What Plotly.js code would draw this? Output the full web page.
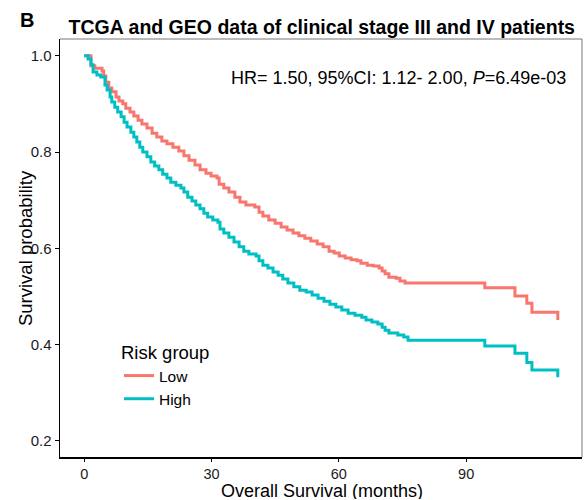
<!DOCTYPE html>
<html>
<head>
<meta charset="utf-8">
<script src="https://cdn.plot.ly/plotly-3.0.1.min.js"></script>
<style>html,body{margin:0;padding:0;background:#fff;}#chart{width:584px;height:500px;}</style>
</head>
<body>
<div id="chart"></div>
<script>
// Kaplan-Meier step data (months, survival probability)
const lowTime = [0, 1.6, 2.5, 4.2, 4.6, 5.1, 5.8, 6.5, 7.5, 8.2, 9.1, 9.8, 10.8, 11.7, 12.7, 13.6, 14.8, 16.0, 17.1, 18.3, 19.5, 20.9, 22.3, 23.5, 24.7, 26.1, 27.3, 28.7, 29.9, 31.3, 31.8, 32.9, 34.1, 35.5, 36.7, 38.1, 40.2, 41.2, 42.1, 43.5, 45.0, 46.4, 47.8, 49.2, 50.6, 52.0, 53.4, 54.9, 56.3, 57.7, 58.9, 60.1, 61.5, 62.9, 64.3, 65.2, 66.7, 68.1, 69.5, 70.2, 70.9, 71.8, 73.5, 74.4, 75.6, 94.4, 101.5, 104.3, 105.5, 111.6];
const lowSurv = [1.0, 0.979, 0.974, 0.968, 0.958, 0.945, 0.933, 0.925, 0.914, 0.906, 0.900, 0.891, 0.883, 0.875, 0.866, 0.858, 0.850, 0.839, 0.831, 0.823, 0.817, 0.810, 0.802, 0.792, 0.783, 0.773, 0.763, 0.756, 0.750, 0.746, 0.733, 0.725, 0.717, 0.706, 0.696, 0.690, 0.686, 0.675, 0.667, 0.659, 0.652, 0.644, 0.638, 0.632, 0.626, 0.621, 0.615, 0.609, 0.603, 0.594, 0.590, 0.584, 0.580, 0.576, 0.574, 0.569, 0.565, 0.563, 0.559, 0.553, 0.547, 0.540, 0.538, 0.532, 0.528, 0.518, 0.501, 0.486, 0.467, 0.451];

const highTime = [0, 0.9, 1.6, 2.1, 3.0, 3.9, 4.9, 5.4, 6.1, 6.5, 7.2, 7.9, 8.7, 9.4, 10.1, 11.0, 11.7, 12.4, 13.1, 13.8, 14.8, 15.7, 16.6, 17.6, 18.5, 19.5, 20.4, 21.6, 22.8, 23.5, 24.4, 25.4, 26.3, 27.3, 28.2, 29.1, 30.3, 31.5, 32.0, 32.9, 34.1, 35.3, 36.5, 37.6, 38.8, 40.5, 41.2, 42.1, 43.3, 44.5, 45.7, 46.8, 48.0, 49.4, 50.8, 52.3, 53.7, 55.1, 56.5, 57.9, 59.3, 60.7, 62.2, 63.8, 65.4, 66.4, 67.8, 69.2, 70.2, 70.9, 71.8, 73.9, 75.3, 76.3, 94.4, 101.5, 104.3, 105.5, 111.6];
const highSurv = [1.0, 0.993, 0.981, 0.966, 0.960, 0.956, 0.939, 0.929, 0.914, 0.904, 0.893, 0.883, 0.873, 0.862, 0.852, 0.841, 0.831, 0.821, 0.810, 0.800, 0.790, 0.779, 0.771, 0.763, 0.754, 0.746, 0.737, 0.731, 0.725, 0.717, 0.706, 0.698, 0.690, 0.682, 0.673, 0.665, 0.659, 0.654, 0.640, 0.632, 0.623, 0.613, 0.603, 0.594, 0.588, 0.584, 0.574, 0.565, 0.559, 0.551, 0.544, 0.536, 0.528, 0.520, 0.513, 0.509, 0.503, 0.496, 0.490, 0.484, 0.478, 0.472, 0.465, 0.461, 0.457, 0.451, 0.447, 0.443, 0.436, 0.430, 0.424, 0.420, 0.416, 0.409, 0.397, 0.382, 0.363, 0.347, 0.332];

const groupNames = ["Low", "High"];
const groupColors = ["#F8766D", "#00BFC4"];
const xTicks = [0, 30, 60, 90];
const yTicks = [0.2, 0.4, 0.6, 0.8, 1.0];
const yTickText = ["0.2", "0.4", "0.6", "0.8", "1.0"];

const FONT = "Liberation Sans, Arial, Helvetica, sans-serif";

const traces = [
  {x: lowTime, y: lowSurv, name: groupNames[0], type: "scatter", mode: "lines",
   line: {shape: "hv", color: groupColors[0], width: 3}},
  {x: highTime, y: highSurv, name: groupNames[1], type: "scatter", mode: "lines",
   line: {shape: "hv", color: groupColors[1], width: 3}}
];

const layout = {
  width: 584, height: 500,
  margin: {l: 60, r: 2, t: 39, b: 43},
  paper_bgcolor: "#fff", plot_bgcolor: "#fff",
  font: {family: FONT, color: "#000"},
  title: {text: "<b>TCGA and GEO data of clinical stage III and IV patients</b>",
          font: {family: FONT, size: 19.5, color: "#000"},
          xref: "container", x: 0.551, xanchor: "center",
          yref: "container", y: 0.946, yanchor: "middle"},
  xaxis: {range: [-5.7, 117.3], tickvals: xTicks, ticktext: xTicks.map(String),
          showgrid: false, zeroline: false, showline: true, linecolor: "#000", linewidth: 1.5,
          ticks: "outside", ticklen: 3, tickwidth: 1, tickcolor: "#000",
          tickfont: {family: FONT, size: 14.5, color: "#1a1a1a"}},
  yaxis: {range: [0.1665, 1.0347], tickvals: yTicks, ticktext: yTickText,
          showgrid: false, zeroline: false, showline: true, linecolor: "#000", linewidth: 1.5,
          ticks: "outside", ticklen: 4, tickwidth: 1, tickcolor: "#000",
          tickfont: {family: FONT, size: 15, color: "#1a1a1a"}},
  legend: {x: 0.113, y: 0.292, xanchor: "left", yanchor: "top",
           bgcolor: "rgba(0,0,0,0)", borderwidth: 0,
           title: {text: "Risk group", font: {family: FONT, size: 18.5, color: "#000"}},
           font: {family: FONT, size: 15.5, color: "#000"}},
  showlegend: true,
  shapes: [
    {type: "line", xref: "paper", yref: "paper", x0: 0, x1: 1, y0: 1, y1: 1, line: {color: "#777", width: 1}},
    {type: "line", xref: "paper", yref: "paper", x0: 1, x1: 1, y0: 0, y1: 1, line: {color: "#777", width: 1}}
  ],
  annotations: [
    {text: "<b>B</b>", xref: "paper", yref: "paper", x: -0.063, y: 1.045, xanchor: "center", yanchor: "middle",
     showarrow: false, font: {family: FONT, size: 20, color: "#000"}},
    {text: "HR= 1.50, 95%CI: 1.12- 2.00, <i>P</i>=6.49e-03", xref: "paper", yref: "paper",
     x: 0.973, y: 0.907, xanchor: "right", yanchor: "middle", showarrow: false,
     font: {family: FONT, size: 18, color: "#000"}},
    {text: "Overall Survival (months)", xref: "paper", yref: "paper",
     x: 0.502, y: -0.0813, xanchor: "center", yanchor: "middle", showarrow: false, borderpad: 0, height: 16,
     font: {family: FONT, size: 18, color: "#000"}},
    {text: "Survival probability", xref: "paper", yref: "paper", textangle: -90,
     x: -0.067, y: 0.5, xanchor: "center", yanchor: "middle", showarrow: false,
     font: {family: FONT, size: 18.5, color: "#000"}}
  ]
};

Plotly.newPlot("chart", traces, layout, {displayModeBar: false, staticPlot: true});
</script>
</body>
</html>
